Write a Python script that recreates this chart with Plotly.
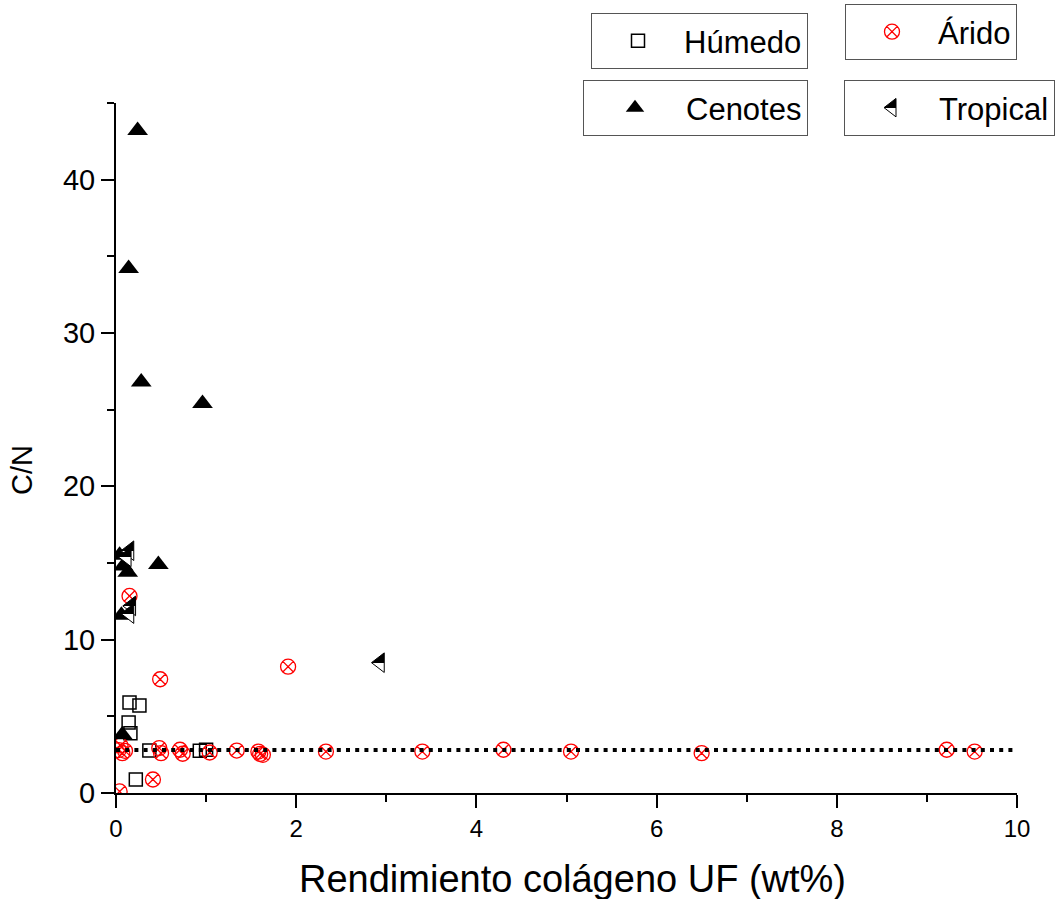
import plotly.graph_objects as go

# ---------------- data ----------------
humedo_x = [0.15, 0.26, 0.14, 0.16, 0.37, 0.93, 1.00, 0.22]
humedo_y = [5.9, 5.7, 4.6, 3.9, 2.77, 2.75, 2.82, 0.88]

arido_x = [0.15, 0.49, 1.91, 0.03, 0.05, 0.07, 0.10, 0.48, 0.50, 0.71, 0.74,
           1.04, 1.34, 1.58, 1.63, 1.60, 2.33, 3.40, 4.30, 5.05, 6.50, 9.22,
           9.53, 0.41, 0.04]
arido_y = [12.85, 7.42, 8.24, 2.8, 3.1, 2.6, 2.75, 2.93, 2.6, 2.82, 2.56,
           2.64, 2.77, 2.7, 2.49, 2.55, 2.7, 2.7, 2.82, 2.7, 2.6, 2.82,
           2.7, 0.88, 0.1]

cenotes_x = [0.24, 0.14, 0.28, 0.96, 0.47, 0.04, 0.08, 0.13, 0.06, 0.07]
cenotes_y = [43.2, 34.2, 26.8, 25.4, 14.9, 15.5, 14.8, 14.4, 11.6, 3.8]

tropical_x = [0.15, 0.12, 0.17, 0.15, 2.93]
tropical_y = [15.8, 15.4, 12.2, 11.7, 8.5]

ref_cn = 2.8          # horizontal dotted reference line
x_range = [0, 10]
y_range = [0, 45]

x_title = "Rendimiento colágeno UF (wt%)"
y_title = "C/N"

FONT = "Liberation Sans, Arial, sans-serif"

fig = go.Figure()

fig.add_trace(go.Scatter(
    x=humedo_x, y=humedo_y, mode="markers", name="Húmedo", legend="legend",
    marker=dict(symbol="square-open", size=13, color="black", line=dict(width=1.5, color="black"))))

fig.add_trace(go.Scatter(
    x=arido_x, y=arido_y, mode="markers", name="Árido", legend="legend2",
    marker=dict(symbol="circle-x-open", size=15, color="red", line=dict(width=1.3, color="red"))))

fig.add_trace(go.Scatter(
    x=cenotes_x, y=cenotes_y, mode="markers", name="Cenotes", legend="legend3",
    marker=dict(symbol="triangle-up", size=18, color="black", line=dict(width=0))))

fig.add_trace(go.Scatter(
    x=tropical_x, y=tropical_y, mode="markers", name="Tropical", legend="legend4",
    marker=dict(symbol="triangle-left", size=17, color="black",
                gradient=dict(type="vertical", color="white"),
                line=dict(width=1, color="black"))))

fig.add_trace(go.Scatter(
    x=x_range, y=[ref_cn, ref_cn], mode="lines", showlegend=False, hoverinfo="skip",
    line=dict(color="black", width=4, dash="4px,5.2px")))

L, R, T, B = 116, 45, 103, 106
W, H = 1062, 899
pw, ph = W - L - R, H - T - B


def px2paper(px, py):
    return (px - L) / pw, (H - B - py) / ph


def legend_box(px, py, iw=82):
    x, y = px2paper(px, py)
    return dict(x=x, y=y, xanchor="left", yanchor="top", xref="paper", yref="paper",
                bgcolor="white", bordercolor="#555555", borderwidth=1,
                font=dict(size=31, family=FONT, color="black"),
                itemwidth=iw, tracegroupgap=0)


tick_common = dict(showline=True, linecolor="black", linewidth=2, ticks="outside",
                   tickcolor="black", tickwidth=2, ticklen=13, showgrid=False,
                   zeroline=False, mirror=False)

xt_x, xt_y = px2paper(572, 879)
yt_x, yt_y = px2paper(22, 470)

fig.update_layout(
    width=W, height=H,
    margin=dict(l=L, r=R, t=T, b=B, autoexpand=False),
    paper_bgcolor="white", plot_bgcolor="white",
    font=dict(family=FONT, color="black"),
    xaxis=dict(range=x_range, dtick=2, tick0=0,
               tickfont=dict(size=24, family=FONT, color="black"),
               minor=dict(dtick=1, ticks="outside", ticklen=7, tickwidth=2, tickcolor="black"),
               **tick_common),
    yaxis=dict(range=y_range, dtick=10, tick0=0,
               tickfont=dict(size=29, family=FONT, color="black"),
               minor=dict(dtick=5, ticks="outside", ticklen=7, tickwidth=2, tickcolor="black"),
               **tick_common),
    legend=legend_box(591, 13),
    legend2=legend_box(845, 4),
    legend3=legend_box(583, 80, iw=92),
    legend4=legend_box(844, 80, iw=84),
    annotations=[
        dict(text=x_title, x=xt_x, y=xt_y, xref="paper", yref="paper", showarrow=False,
             xanchor="center", yanchor="middle", font=dict(size=38, family=FONT, color="black")),
        dict(text=y_title, x=yt_x, y=yt_y, xref="paper", yref="paper", showarrow=False,
             textangle=-90, xanchor="center", yanchor="middle",
             font=dict(size=29, family=FONT, color="black")),
    ],
)

post = """
(function(){
  document.body.style.margin = '0';
  document.body.style.overflow = 'hidden';
  function sharpen(){
    document.querySelectorAll('linearGradient').forEach(function(g){
      var stops = g.querySelectorAll('stop');
      if(stops.length !== 2) return;
      var s0 = stops[0], s1 = stops[1];
      var m0 = s0.cloneNode(true); m0.setAttribute('offset', '50%');
      var m1 = s1.cloneNode(true); m1.setAttribute('offset', '50%');
      g.insertBefore(m0, s1); g.insertBefore(m1, s1);
    });
  }
  sharpen();
  var gd = document.getElementById('{plot_id}');
  if(gd && gd.on) gd.on('plotly_afterplot', sharpen);
})();
"""

fig.write_html("out.html", post_script=post, config={"displayModeBar": False})
